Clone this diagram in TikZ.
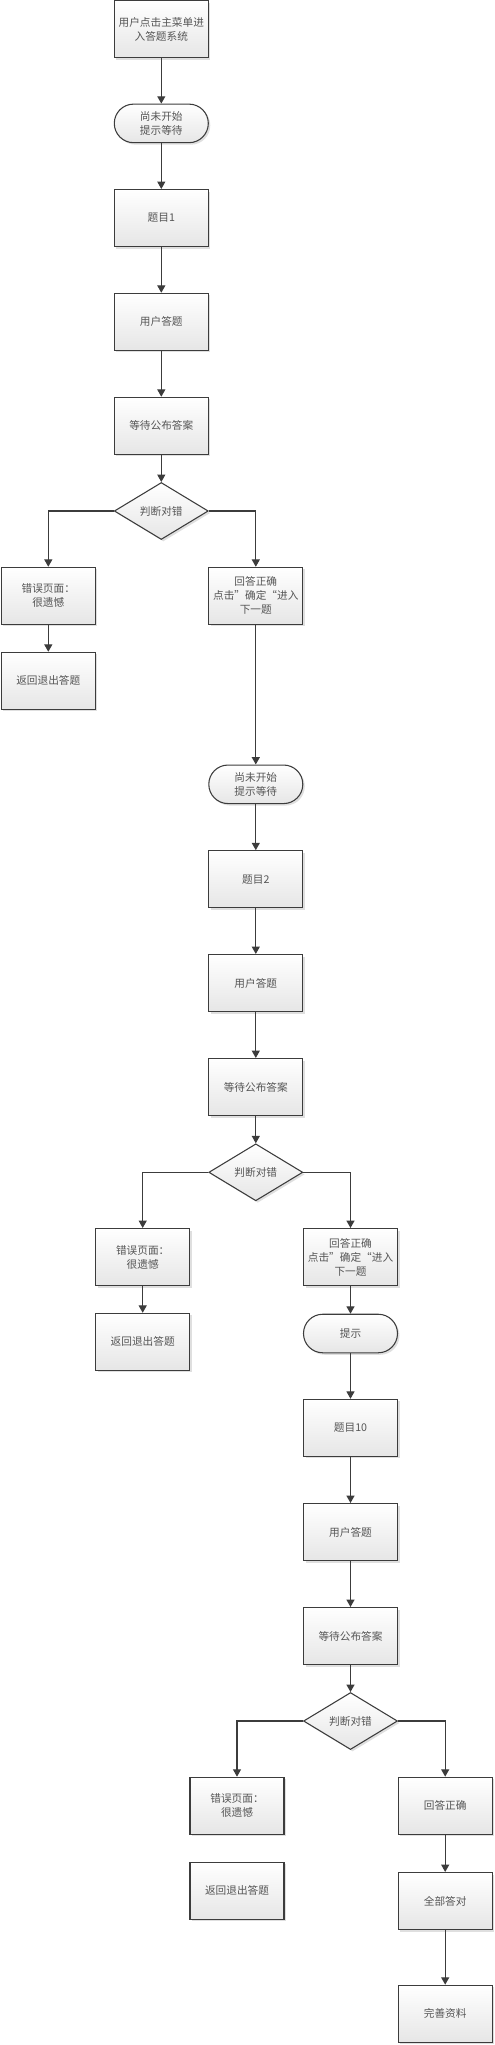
\documentclass[tikz,border=0pt]{standalone}
\usepackage{fontspec}
\setmainfont{Noto Sans CJK SC}
\usetikzlibrary{shapes.geometric,shadows,arrows.meta}
\definecolor{lnc}{HTML}{3C3C3C}
\definecolor{txc}{HTML}{555555}
\definecolor{botc}{HTML}{E6E6E6}
\tikzset{
  base/.style={draw=lnc, line width=0.8pt, top color=white, bottom color=botc,
    text=txc, font=\fontsize{8}{10.5}\selectfont, align=center, inner sep=1pt,
    drop shadow={shadow xshift=1.5pt, shadow yshift=-1.5pt, opacity=0.25, fill=gray}},
  proc/.style={base, rectangle, minimum width=70.5pt, minimum height=42.75pt},
  term/.style={base, rectangle, rounded corners=14.4pt, minimum width=70.5pt, minimum height=28.9pt},
  deci/.style={base, diamond, minimum width=70.5pt, minimum height=42.75pt, aspect=1.65},
  arr/.style={draw=lnc, line width=0.8pt, -{Triangle[width=6pt,length=5.5pt]}}
}
\begin{document}
\begin{tikzpicture}[x=0.75pt,y=-0.75pt]
\useasboundingbox (0,0) rectangle (495,2045);
% column 1
\node[proc] (n1) at (161.3,29) {用户点击主菜单进\\入答题系统};
\node[term] (t1) at (161.3,123.4) {尚未开始\\提示等待};
\node[proc] (q1) at (161.3,218) {题目1};
\node[proc] (u1) at (161.3,321.8) {用户答题};
\node[proc] (w1) at (161.3,425.8) {等待公布答案};
\node[deci] (d1) at (161.3,511) {判断对错};
\node[proc] (e1) at (48.3,595.8) {错误页面：\\很遗憾};
\node[proc] (e1b) at (48.3,680.8) {返回退出答题};
\node[proc] (r1) at (255.8,595.8) {回答正确\\点击”确定“进入\\下一题};
% column 2
\node[term] (t2) at (255.8,784.3) {尚未开始\\提示等待};
\node[proc] (q2) at (255.8,879.2) {题目2};
\node[proc] (u2) at (255.8,983) {用户答题};
\node[proc] (w2) at (255.8,1087) {等待公布答案};
\node[deci] (d2) at (255.8,1172.3) {判断对错};
\node[proc] (e2) at (142.7,1257) {错误页面：\\很遗憾};
\node[proc] (e2b) at (142.7,1341.8) {返回退出答题};
\node[proc] (r2) at (350.5,1257) {回答正确\\点击”确定“进入\\下一题};
% column 3
\node[term] (t3) at (350.5,1333.5) {提示};
\node[proc] (q3) at (350.5,1427.8) {题目10};
\node[proc] (u3) at (350.5,1532) {用户答题};
\node[proc] (w3) at (350.5,1636) {等待公布答案};
\node[deci] (d3) at (350.5,1721) {判断对错};
\node[proc] (e3) at (237,1805.7) {错误页面：\\很遗憾};
\node[proc] (e3b) at (237,1890.8) {返回退出答题};
\node[proc] (r3) at (445.2,1805.7) {回答正确};
\node[proc] (all) at (445.2,1901) {全部答对};
\node[proc] (fin) at (445.2,2013.7) {完善资料};
% connectors
\draw[arr] (n1) -- (t1);
\draw[arr] (t1) -- (q1);
\draw[arr] (q1) -- (u1);
\draw[arr] (u1) -- (w1);
\draw[arr] (w1) -- (d1);
\draw[arr] (d1.west) -| (e1.north);
\draw[arr] (d1.east) -| (r1.north);
\draw[arr] (e1) -- (e1b);
\draw[arr] (r1) -- (t2);
\draw[arr] (t2) -- (q2);
\draw[arr] (q2) -- (u2);
\draw[arr] (u2) -- (w2);
\draw[arr] (w2) -- (d2);
\draw[arr] (d2.west) -| (e2.north);
\draw[arr] (d2.east) -| (r2.north);
\draw[arr] (e2) -- (e2b);
\draw[arr] (r2) -- (t3);
\draw[arr] (t3) -- (q3);
\draw[arr] (q3) -- (u3);
\draw[arr] (u3) -- (w3);
\draw[arr] (w3) -- (d3);
\draw[arr] (d3.west) -| (e3.north);
\draw[arr] (d3.east) -| (r3.north);
\draw[arr] (r3) -- (all);
\draw[arr] (all) -- (fin);
\end{tikzpicture}
\end{document}
